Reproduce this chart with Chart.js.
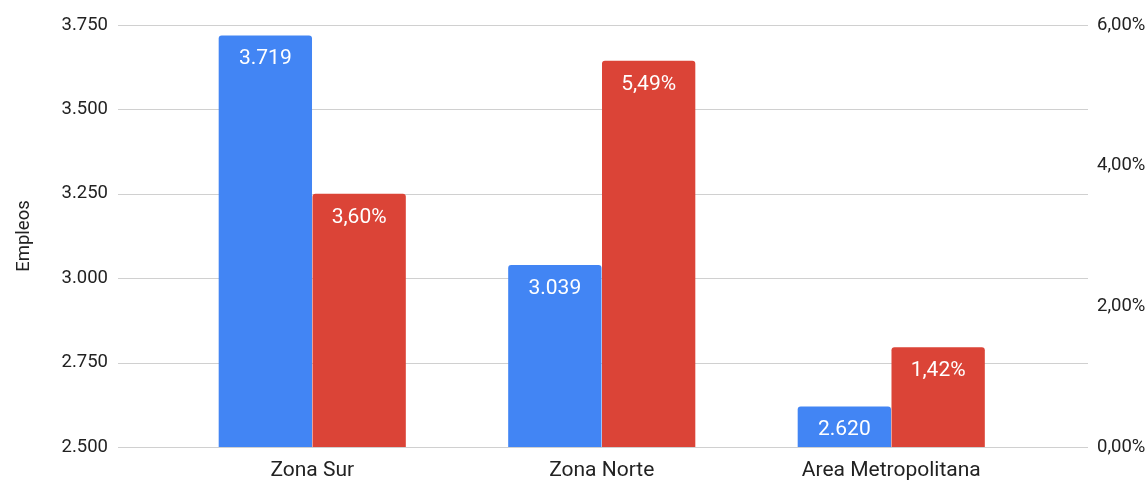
<!DOCTYPE html>
<html>
<head>
<meta charset="utf-8">
<script src="https://cdn.jsdelivr.net/npm/chart.js@4/dist/chart.umd.min.js"></script>
<style>
  html, body { margin: 0; padding: 0; background: #ffffff; }
  #wrap { width: 1148px; height: 482px; position: relative; }
</style>
</head>
<body>
<div id="wrap"><canvas id="c" width="1148" height="482"></canvas></div>
<script>
const categories = ["Zona Sur", "Zona Norte", "Area Metropolitana"];
const empleos = [3719, 3039, 2620];
const porcentaje = [3.60, 5.49, 1.42];
const leftTicks = [2500, 2750, 3000, 3250, 3500, 3750];
const rightTicks = [0, 2, 4, 6];
const axisTitle = "Empleos";

const FONT = "Roboto, 'Noto Sans', sans-serif";

function fmtThousands(v) {
  return String(Math.round(v)).replace(/\B(?=(\d{3})+(?!\d))/g, ".");
}
function fmtPct(v) {
  return v.toFixed(2).replace(".", ",") + "%";
}

const gridPlugin = {
  id: "fullGrid",
  beforeDatasetsDraw(chart) {
    const ctx = chart.ctx;
    const y = chart.scales.y;
    ctx.save();
    ctx.strokeStyle = "#d0d0d0";
    ctx.lineWidth = 1;
    leftTicks.forEach(t => {
      const py = Math.round(y.getPixelForValue(t)) + 0.5;
      ctx.beginPath();
      ctx.moveTo(118, py);
      ctx.lineTo(1088, py);
      ctx.stroke();
    });
    ctx.restore();
  }
};

const labelPlugin = {
  id: "barLabels",
  afterDatasetsDraw(chart) {
    const ctx = chart.ctx;
    ctx.save();
    ctx.fillStyle = "#ffffff";
    ctx.font = "21px " + FONT;
    ctx.textAlign = "center";
    ctx.textBaseline = "middle";
    chart.data.datasets.forEach((ds, di) => {
      const meta = chart.getDatasetMeta(di);
      meta.data.forEach((bar, i) => {
        const txt = di === 0 ? fmtThousands(ds.data[i]) : fmtPct(ds.data[i]);
        ctx.fillText(txt, bar.x, bar.y + 23.5);
      });
    });
    ctx.restore();
  }
};

new Chart(document.getElementById("c"), {
  type: "bar",
  data: {
    labels: categories,
    datasets: [
      {
        label: "Empleos",
        data: empleos,
        backgroundColor: "#4285F4",
        yAxisID: "y",
        borderRadius: { topLeft: 3, topRight: 3, bottomLeft: 0, bottomRight: 0 },
        borderSkipped: "bottom",
        categoryPercentage: 0.648,
        barPercentage: 0.995
      },
      {
        label: "Porcentaje",
        data: porcentaje,
        backgroundColor: "#DB4437",
        yAxisID: "y1",
        borderRadius: { topLeft: 3, topRight: 3, bottomLeft: 0, bottomRight: 0 },
        borderSkipped: "bottom",
        categoryPercentage: 0.648,
        barPercentage: 0.995
      }
    ]
  },
  options: {
    responsive: false,
    animation: false,
    layout: { padding: { top: 25, bottom: 0, left: 0, right: 0 } },
    plugins: {
      legend: { display: false },
      tooltip: { enabled: false }
    },
    scales: {
      x: {
        grid: { display: false, drawTicks: false },
        border: { display: false },
        ticks: { color: "#222222", font: { family: FONT, size: 21 }, padding: 11 },
        afterFit(s) { s.height = 35; }
      },
      y: {
        position: "left",
        min: 2500,
        max: 3750,
        afterBuildTicks(s) { s.ticks = leftTicks.map(v => ({ value: v })); },
        grid: { display: false, drawTicks: false },
        border: { display: false },
        ticks: {
          color: "#222222",
          font: { family: FONT, size: 18.5 },
          padding: 59.5,
          callback: v => fmtThousands(v)
        },
        title: {
          display: true,
          text: axisTitle,
          color: "#222222",
          font: { family: FONT, size: 18.5 },
          padding: { top: 13, bottom: 0 }
        },
        afterFit(s) { s.width = 167.5; s.paddingTop = 0; s.paddingBottom = 0; }
      },
      y1: {
        position: "right",
        min: 0,
        max: 6,
        afterBuildTicks(s) { s.ticks = rightTicks.map(v => ({ value: v })); },
        grid: { display: false, drawTicks: false },
        border: { display: false },
        ticks: {
          color: "#222222",
          font: { family: FONT, size: 18.5 },
          padding: 61,
          callback: v => fmtPct(v)
        },
        afterFit(s) { s.width = 112; s.paddingTop = 0; s.paddingBottom = 0; }
      }
    }
  },
  plugins: [gridPlugin, labelPlugin]
});
</script>
</body>
</html>
